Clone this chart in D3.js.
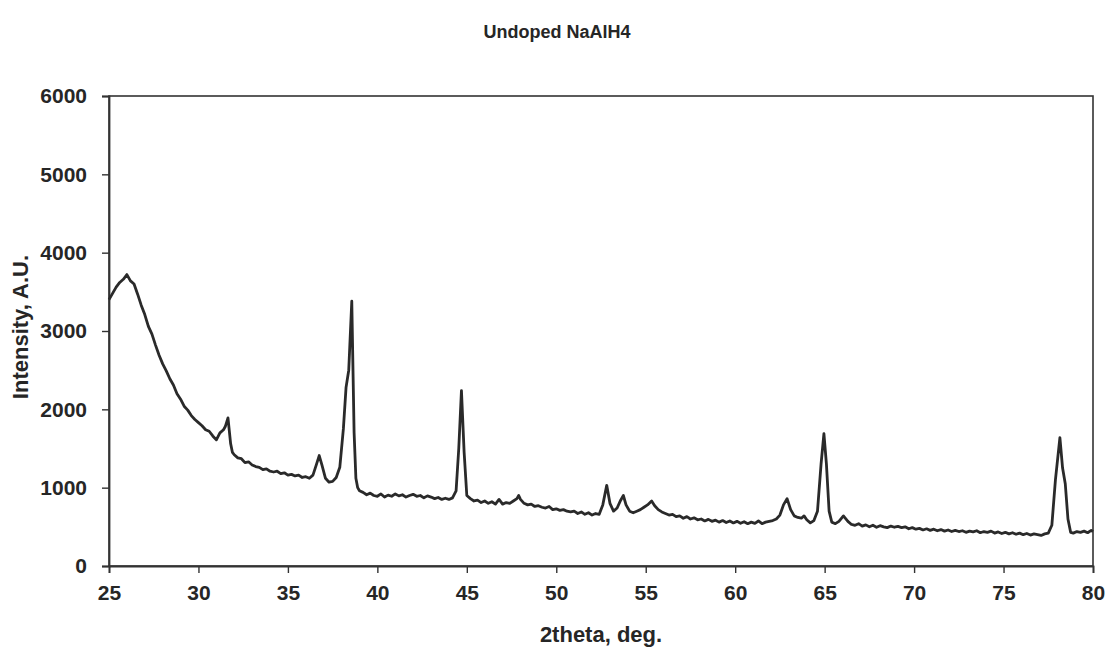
<!DOCTYPE html>
<html>
<head>
<meta charset="utf-8">
<script src="https://cdn.jsdelivr.net/npm/d3@7/dist/d3.min.js"></script>
<style>
  html, body { margin: 0; padding: 0; background: #fff; }
  svg { display: block; }
  text { font-family: "Liberation Sans", Arial, sans-serif; font-weight: bold; fill: #262626; }
</style>
</head>
<body>
<svg id="chart" width="1111" height="654"></svg>
<script>
// ---- data ----
const chartTitle = "Undoped NaAlH4";
const xLabel = "2theta, deg.";
const yLabel = "Intensity, A.U.";
const xTicks = [25, 30, 35, 40, 45, 50, 55, 60, 65, 70, 75, 80];
const yTicks = [0, 1000, 2000, 3000, 4000, 5000, 6000];

const twoTheta = [
  25.0,25.2,25.4,25.6,25.8,26.0,26.2,26.4,26.6,26.8,27.0,27.2,27.4,27.6,27.8,28.0,28.2,28.4,28.6,28.8,
  29.0,29.2,29.4,29.6,29.8,30.0,30.2,30.4,30.6,30.8,31.0,31.2,31.4,31.5,31.65,31.8,31.9,32.0,32.2,32.4,
  32.6,32.8,33.0,33.2,33.4,33.6,33.8,34.0,34.2,34.4,34.6,34.8,35.0,35.2,35.4,35.6,35.8,36.0,36.2,36.4,
  36.6,36.75,36.9,37.1,37.3,37.5,37.7,37.9,38.1,38.25,38.4,38.57,38.7,38.8,38.9,39.0,39.2,39.4,39.6,39.8,
  40.0,40.2,40.4,40.6,40.8,41.0,41.2,41.4,41.6,41.8,42.0,42.2,42.4,42.6,42.8,43.0,43.2,43.4,43.6,43.8,
  44.0,44.2,44.4,44.55,44.7,44.85,45.0,45.2,45.4,45.6,45.8,46.0,46.2,46.4,46.6,46.8,47.0,47.2,47.4,47.6,
  47.8,47.9,48.0,48.2,48.4,48.6,48.8,49.0,49.2,49.4,49.6,49.8,50.0,50.2,50.4,50.6,50.8,51.0,51.2,51.4,
  51.6,51.8,52.0,52.2,52.4,52.6,52.82,53.0,53.2,53.4,53.6,53.75,53.9,54.1,54.3,54.5,54.7,54.9,55.1,55.33,
  55.5,55.7,55.9,56.1,56.3,56.5,56.7,56.9,57.1,57.3,57.5,57.7,57.9,58.1,58.3,58.5,58.7,58.9,59.1,59.3,
  59.5,59.7,59.9,60.1,60.3,60.5,60.7,60.9,61.1,61.3,61.5,61.7,61.9,62.1,62.3,62.5,62.7,62.9,63.1,63.3,
  63.5,63.7,63.85,64.0,64.2,64.4,64.6,64.8,64.96,65.1,65.25,65.4,65.6,65.8,66.05,66.3,66.5,66.7,66.9,67.1,
  67.3,67.5,67.7,67.9,68.1,68.3,68.5,68.7,68.9,69.1,69.3,69.5,69.7,69.9,70.1,70.3,70.5,70.7,70.9,71.1,
  71.3,71.5,71.7,71.9,72.1,72.3,72.5,72.7,72.9,73.1,73.3,73.5,73.7,73.9,74.1,74.3,74.5,74.7,74.9,75.1,
  75.3,75.5,75.7,75.9,76.1,76.3,76.5,76.7,76.9,77.1,77.3,77.5,77.7,77.9,78.15,78.3,78.45,78.6,78.75,78.9,
  79.1,79.3,79.5,79.7,79.9,80.0
];
const intensity = [
  3400,3480,3560,3620,3660,3720,3640,3600,3470,3330,3210,3060,2960,2820,2690,2580,2490,2390,2310,2200,
  2130,2040,1990,1920,1870,1830,1790,1740,1720,1660,1610,1700,1740,1780,1890,1560,1450,1420,1380,1370,
  1320,1330,1290,1270,1260,1230,1240,1210,1200,1210,1180,1190,1160,1170,1150,1160,1130,1140,1120,1160,
  1300,1410,1290,1120,1070,1080,1130,1260,1750,2280,2500,3380,1700,1120,1000,960,940,910,930,900,
  890,920,880,905,890,920,895,910,880,900,915,890,900,870,895,880,860,875,850,865,
  850,870,960,1500,2240,1450,900,860,830,840,810,830,800,820,790,850,790,810,800,830,
  860,900,850,800,780,790,760,770,750,740,760,720,730,710,720,700,690,700,670,690,
  660,680,650,670,660,780,1030,800,700,740,840,900,780,700,680,700,720,750,780,830,
  770,720,690,670,650,660,630,640,610,630,600,615,590,600,575,595,570,585,560,580,
  555,575,550,570,545,565,540,560,545,575,540,560,570,580,600,650,780,860,720,640,
  620,610,640,590,550,580,700,1300,1690,1300,700,560,540,570,640,570,530,520,540,510,
  525,500,520,495,515,500,490,510,495,505,490,500,475,490,470,480,460,475,455,470,
  450,465,445,460,440,455,440,450,430,445,435,450,425,440,430,445,420,435,415,430,
  410,425,405,420,400,415,395,410,400,390,410,420,520,1100,1640,1250,1050,600,430,420,
  440,430,445,425,455,440
];

// ---- layout ----
const W = 1111, H = 654;
const M = { left: 109, right: 18, top: 96, bottom: 88 };
const svg = d3.select("#chart");

const x = d3.scaleLinear().domain([25, 80]).range([M.left, W - M.right]);
const y = d3.scaleLinear().domain([0, 6000]).range([H - M.bottom, M.top]);

// plot frame
svg.append("rect")
  .attr("x", M.left).attr("y", M.top)
  .attr("width", W - M.right - M.left).attr("height", H - M.bottom - M.top)
  .attr("fill", "none").attr("stroke", "#333").attr("stroke-width", 1.6);

// axes
const xAxis = svg.append("g")
  .attr("transform", `translate(0,${H - M.bottom})`)
  .call(d3.axisBottom(x).tickValues(xTicks).tickSize(7).tickPadding(12).tickFormat(d3.format("d")));
const yAxis = svg.append("g")
  .attr("transform", `translate(${M.left},0)`)
  .call(d3.axisLeft(y).tickValues(yTicks).tickSize(7).tickPadding(15).tickFormat(d3.format("d")));

[xAxis, yAxis].forEach(g => {
  g.select(".domain").attr("stroke", "#333").attr("stroke-width", 1.8);
  g.selectAll(".tick line").attr("stroke", "#333").attr("stroke-width", 1.4);
  g.selectAll(".tick text")
    .style("font-family", '"Liberation Sans", Arial, sans-serif')
    .style("font-weight", "bold")
    .style("font-size", "21px")
    .attr("fill", "#262626");
});

// data line
const pts = twoTheta.map((t, i) => [t, intensity[i]]);
svg.append("path")
  .datum(pts)
  .attr("fill", "none")
  .attr("stroke", "#2a2a2a")
  .attr("stroke-width", 2.8)
  .attr("stroke-linejoin", "round")
  .attr("d", d3.line().x(d => x(d[0])).y(d => y(d[1])));

// title and labels
svg.append("text")
  .attr("x", 557).attr("y", 38)
  .attr("text-anchor", "middle")
  .style("font-size", "18px")
  .text(chartTitle);

svg.append("text")
  .attr("x", 601).attr("y", 642)
  .attr("text-anchor", "middle")
  .style("font-size", "22px")
  .text(xLabel);

svg.append("text")
  .attr("transform", "translate(28,327) rotate(-90)")
  .attr("text-anchor", "middle")
  .style("font-size", "22px")
  .text(yLabel);
</script>
</body>
</html>
